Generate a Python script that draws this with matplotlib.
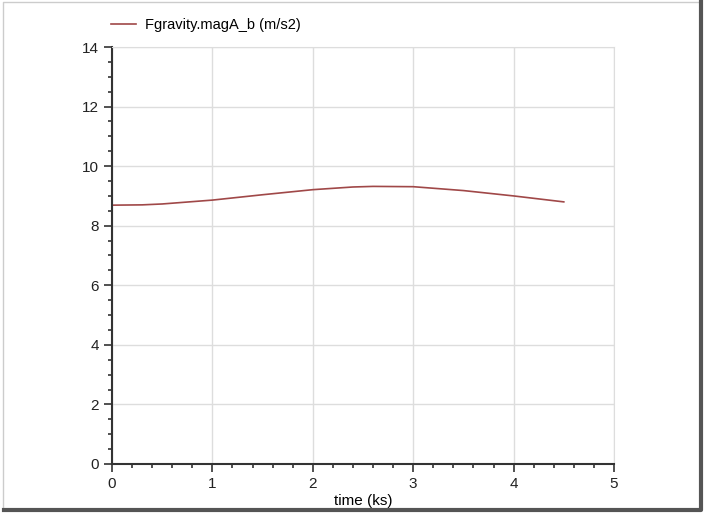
import matplotlib.pyplot as plt
from matplotlib.lines import Line2D
from matplotlib.ticker import MultipleLocator

# time (ks) and gravity magnitude (m/s2)
t = [0.0, 0.3, 0.5, 1.0, 1.5, 2.0, 2.4, 2.6, 3.0, 3.5, 4.0, 4.5]
g = [8.69, 8.70, 8.73, 8.86, 9.04, 9.21, 9.30, 9.32, 9.31, 9.18, 9.00, 8.80]

plt.rcParams['font.family'] = ['Liberation Sans', 'DejaVu Sans']

fig = plt.figure(figsize=(7.06, 5.16), dpi=100)
ax = fig.add_axes([0.1586, 0.1008, 0.7111, 0.8081])

ax.plot(t, g, color='#a04848', lw=1.2, label='Fgravity.magA_b (m/s2)')

ax.set_xlim(0, 5)
ax.set_ylim(0, 14)
ax.xaxis.set_major_locator(MultipleLocator(1))
ax.xaxis.set_minor_locator(MultipleLocator(0.2))
ax.yaxis.set_major_locator(MultipleLocator(2))
ax.yaxis.set_minor_locator(MultipleLocator(0.5))
ax.tick_params(which='major', direction='out', length=6, width=1.2, labelsize=11,
               color='#333333', labelcolor='#222222')
ax.tick_params(which='minor', direction='out', length=3, width=1.2, color='#333333')
ax.grid(True, which='major', color='#dddddd', lw=1)

for side in ['top', 'right']:
    ax.spines[side].set_color('#dddddd')
for side in ['left', 'bottom']:
    ax.spines[side].set_color('#333333')
    ax.spines[side].set_linewidth(1.5)

ax.set_xlabel('time (ks)', fontsize=11, labelpad=2)
ax.legend(loc='lower left', bbox_to_anchor=(-0.002, 1.035), frameon=False,
          fontsize=10.5, handlelength=1.7, handletextpad=0.6, borderaxespad=0,
          borderpad=0)

# screenshot frame: light edge on top/left, dark shadow on right/bottom
L, R, B, T = 0.004, 0.993, 0.011, 0.996
fig.lines.append(Line2D([L, L, R], [B, T, T], transform=fig.transFigure,
                        color='#cccccc', lw=1))
fig.lines.append(Line2D([L + 0.002, R, R], [B, B, T], transform=fig.transFigure,
                        color='#555555', lw=3))

fig.savefig('out.png', dpi=100)
